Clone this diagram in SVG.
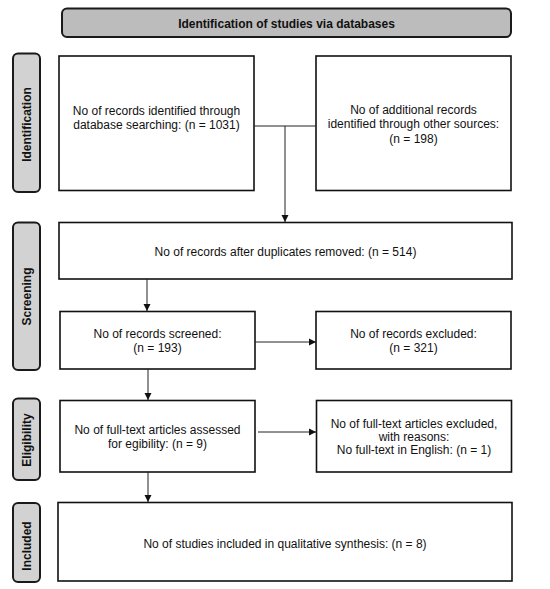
<svg xmlns="http://www.w3.org/2000/svg" width="550" height="589" viewBox="0 0 550 589">
<style>
.box{fill:#fff;stroke:#111;stroke-width:1.6}
.side{fill:#d2d2d2;stroke:#1a1a1a;stroke-width:2}
.t{font-family:"Liberation Sans",Arial,sans-serif;font-size:12px;fill:#111;text-anchor:middle}
.b{font-family:"Liberation Sans",Arial,sans-serif;font-size:12px;font-weight:bold;fill:#111;text-anchor:middle}
.c{fill:none;stroke:#222;stroke-width:1}
</style>
<defs>
<marker id="ah" markerWidth="8" markerHeight="8" refX="7" refY="4" orient="auto" markerUnits="userSpaceOnUse">
<path d="M0,0.5 L7,4 L0,7.5 Z" fill="#111"/>
</marker>
</defs>
<g id="title">
<rect x="62" y="8.5" width="449" height="28.5" rx="5" fill="#bcbcbc" stroke="#1a1a1a" stroke-width="2"/>
<text class="b" x="286.5" y="27.5">Identification of studies via databases</text>
</g>
<g id="side-identification">
<rect class="side" x="13" y="53.5" width="27" height="138.5" rx="5"/>
<text class="b" transform="translate(30.5,124.5) rotate(-90)">Identification</text>
</g>
<g id="side-screening">
<rect class="side" x="13" y="222.5" width="27" height="147.5" rx="5"/>
<text class="b" transform="translate(30.5,296.5) rotate(-90)">Screening</text>
</g>
<g id="side-eligibility">
<rect class="side" x="13" y="398.5" width="27" height="81.5" rx="5"/>
<text class="b" transform="translate(30.5,440) rotate(-90)">Eligibility</text>
</g>
<g id="side-included">
<rect class="side" x="13" y="503" width="27" height="79" rx="5"/>
<text class="b" transform="translate(30.5,546) rotate(-90)">Included</text>
</g>
<g id="n1">
<rect class="box" x="59" y="56" width="195" height="134.5"/>
<text class="t" x="156.5" y="114.5">No of records identified through</text>
<text class="t" x="156.5" y="129">database searching: (n = 1031)</text>
</g>
<g id="n2">
<rect class="box" x="316" y="56" width="195" height="134.5"/>
<text class="t" x="413.5" y="113.5">No of additional records</text>
<text class="t" x="413.5" y="128">identified through other sources:</text>
<text class="t" x="413.5" y="142.5">(n = 198)</text>
</g>
<g id="n3">
<rect class="box" x="59" y="222.5" width="453" height="56.5"/>
<text class="t" x="285.5" y="256">No of records after duplicates removed: (n = 514)</text>
</g>
<g id="n4">
<rect class="box" x="60" y="311.5" width="195" height="57.5"/>
<text class="t" x="157.5" y="338">No of records screened:</text>
<text class="t" x="157.5" y="352">(n = 193)</text>
</g>
<g id="n5">
<rect class="box" x="316" y="311.5" width="195" height="57.5"/>
<text class="t" x="413.5" y="338">No of records excluded:</text>
<text class="t" x="413.5" y="352">(n = 321)</text>
</g>
<g id="n6">
<rect class="box" x="60" y="400.5" width="195" height="71.5"/>
<text class="t" x="157.5" y="434">No of full-text articles assessed</text>
<text class="t" x="157.5" y="448">for egibility: (n = 9)</text>
</g>
<g id="n7">
<rect class="box" x="316.5" y="400.5" width="195" height="71.5"/>
<text class="t" x="414" y="428">No of full-text articles excluded,</text>
<text class="t" x="414" y="441">with reasons:</text>
<text class="t" x="414" y="454">No full-text in English: (n = 1)</text>
</g>
<g id="n8">
<rect class="box" x="58" y="502.5" width="454" height="78.5"/>
<text class="t" x="285" y="548">No of studies included in qualitative synthesis: (n = 8)</text>
</g>
<g id="connectors">
<path class="c" d="M254,126 H316"/>
<path class="c" d="M285,126 V222" marker-end="url(#ah)"/>
<path class="c" d="M147,279 V311" marker-end="url(#ah)"/>
<path class="c" d="M255,342 H316" marker-end="url(#ah)"/>
<path class="c" d="M148,369 V400" marker-end="url(#ah)"/>
<path class="c" d="M258,432 H316" marker-end="url(#ah)"/>
<path class="c" d="M148,472 V502" marker-end="url(#ah)"/>
</g>
</svg>
